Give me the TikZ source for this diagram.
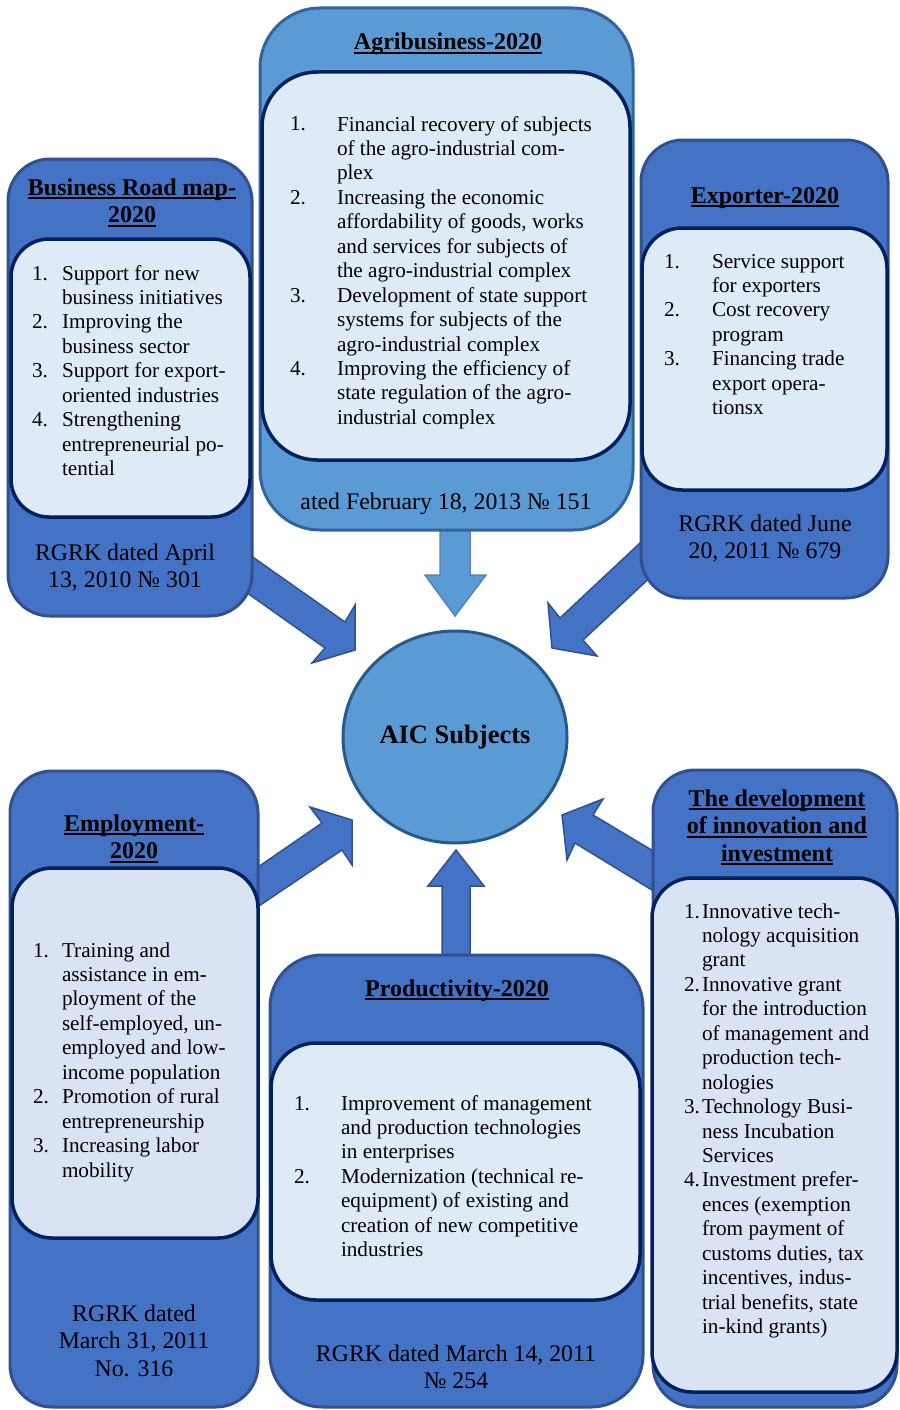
\documentclass[tikz,border=0pt]{standalone}
\usepackage{fontspec}
\setmainfont{Liberation Serif}
\usetikzlibrary{shapes.geometric}
\definecolor{bfill}{HTML}{4472C4}
\definecolor{bline}{HTML}{2F528F}
\definecolor{lfill}{HTML}{5B9BD5}
\definecolor{lline}{HTML}{31659B}
\definecolor{cline}{HTML}{255A8A}
\definecolor{ifill}{HTML}{DEEBF7}
\definecolor{ifillb}{HTML}{DAE3F3}
\definecolor{iline}{HTML}{002060}
\tikzset{
  obox/.style={rectangle, draw=bline, fill=bfill, line width=3pt, inner sep=0pt, outer sep=0pt},
  lbox/.style={rectangle, draw=lline, fill=lfill, line width=3pt, inner sep=0pt, outer sep=0pt},
  ibox/.style={rectangle, draw=iline, fill=ifill, line width=3.5pt, inner sep=0pt, outer sep=0pt},
  blkarrow/.style={draw=bline, fill=bfill, line width=1.5pt, line join=miter},
  lblkarrow/.style={draw=lline!80, fill=lfill, line width=1.5pt, line join=miter},
  lst/.style={inner sep=0pt, outer sep=0pt, align=left, anchor=north west, font=\fontsize{21.2}{24.45}\selectfont},
  ttl/.style={inner sep=0pt, outer sep=0pt, align=center, anchor=north, font=\fontsize{24}{27.5}\selectfont\bfseries},
  btm/.style={inner sep=0pt, outer sep=0pt, align=center, anchor=north, font=\fontsize{23.8}{27.5}\selectfont},
  aicst/.style={ellipse, draw=cline, fill=lfill, line width=3pt, minimum width=224pt, minimum height=212pt, inner sep=0pt, font=\fontsize{26.5}{30}\selectfont\bfseries}
}
\newcommand\uln[1]{\setbox0\hbox{#1}\rlap{\vrule width\wd0 height -2.4pt depth 4.4pt}\box0}
\newcommand\li[6]{%
  \node[lst] (#1n) at (#2,#4-17.115) {\strut #5};
  \node[lst] (#1) at (#3,#4-17.115) {\strut #6};}
\begin{document}
\begin{tikzpicture}[x=1pt,y=-1pt]
\useasboundingbox (0,0) rectangle (899,1410);
% block arrows (behind boxes)
\draw[blkarrow] (247,553) -- (345,622) -- (355,605) -- (355,650) -- (312,663) -- (325,648) -- (243,590) -- cycle;
\draw[blkarrow] (655,529) -- (560,618) -- (548,603) -- (552,648) -- (597,656) -- (583,640) -- (656,572) -- cycle;
\draw[lblkarrow] (440,522) -- (470,522) -- (470,575) -- (486,575) -- (455,616) -- (425,575) -- (440,575) -- cycle;
\draw[blkarrow] (456,850) -- (484,886) -- (470,886) -- (470,962) -- (442,962) -- (442,886) -- (428,886) -- cycle;
\draw[blkarrow] (245,876) -- (322,823) -- (310,807) -- (352,820) -- (352,865) -- (342,850) -- (247,914) -- cycle;
\draw[blkarrow] (562,815) -- (603,799) -- (593,815) -- (665,858) -- (665,898) -- (575,843) -- (567,860) -- cycle;

% Business Road map
\node[obox, rounded corners=42pt, minimum width=244pt, minimum height=457pt] (bizO) at (130,387.5) {};
\node[ibox, rounded corners=38pt, minimum width=239pt, minimum height=278pt] (bizI) at (130.5,378) {};
\node[ttl] (bizT) at (132,195-19.25) {\strut\uln{Business Road map-}\\\uln{2020}};
\li{b1}{32}{62}{280}{1.}{Support for new\\business initiatives}
\li{b2}{32}{62}{328.9}{2.}{Improving the\\business sector}
\li{b3}{32}{62}{377.8}{3.}{Support for export-\\oriented industries}
\li{b4}{32}{62}{426.7}{4.}{Strengthening\\entrepreneurial po-\\tential}
\node[btm] (bizB) at (125,560-19.25) {\strut RGRK dated April\\13, 2010 № 301};

% Agribusiness
\node[lbox, rounded corners=60pt, minimum width=373pt, minimum height=522pt] (agrO) at (446.5,269) {};
\node[ibox, rounded corners=55pt, minimum width=368pt, minimum height=388pt] (agrI) at (446,266) {};
\node[ttl] (agrT) at (448,50-19.25) {\strut\uln{Agribusiness-2020}};
\li{a1}{290}{337}{131}{1.}{Financial recovery of subjects\\of the agro-industrial com-\\plex}
\li{a2}{290}{337}{204.35}{2.}{Increasing the economic\\affordability of goods, works\\and services for subjects of\\the agro-industrial complex}
\li{a3}{290}{337}{302.15}{3.}{Development of state support\\systems for subjects of the\\agro-industrial complex}
\li{a4}{290}{337}{375.5}{4.}{Improving the efficiency of\\state regulation of the agro-\\industrial complex}
\node[btm] (agrB) at (446,509-19.25) {\strut ated February 18, 2013 № 151};

% Exporter
\node[obox, rounded corners=42pt, minimum width=247pt, minimum height=458pt] (expO) at (764.5,369) {};
\node[ibox, rounded corners=40pt, minimum width=245pt, minimum height=262pt] (expI) at (764.5,359) {};
\node[ttl] (expT) at (765,203-19.25) {\strut\uln{Exporter-2020}};
\li{e1}{664}{712}{268}{1.}{Service support\\for exporters}
\li{e2}{664}{712}{316.9}{2.}{Cost recovery\\program}
\li{e3}{664}{712}{365.8}{3.}{Financing trade\\export opera-\\tionsx}
\node[btm] (expB) at (765,531-19.25) {\strut RGRK dated June\\20, 2011 № 679};

% Employment
\node[obox, rounded corners=42pt, minimum width=248pt, minimum height=636pt] (empO) at (134,1089) {};
\node[ibox, fill=ifillb, rounded corners=40pt, minimum width=246pt, minimum height=370pt] (empI) at (135,1053) {};
\node[ttl] (empT) at (134,831-19.25) {\strut\uln{Employment-}\\\uln{2020}};
\li{m1}{33}{62}{957}{1.}{Training and\\assistance in em-\\ployment of the\\self-employed, un-\\employed and low-\\income population}
\li{m2}{33}{62}{1103.7}{2.}{Promotion of rural\\entrepreneurship}
\li{m3}{33}{62}{1152.6}{3.}{Increasing labor\\mobility}
\node[btm] (empB) at (134,1321-19.25) {\strut RGRK dated\\March 31, 2011\\No. 316};

% Productivity
\node[obox, rounded corners=52pt, minimum width=373pt, minimum height=452pt] (proO) at (456.5,1181) {};
\node[ibox, rounded corners=45pt, minimum width=369pt, minimum height=257pt] (proI) at (455.5,1171.5) {};
\node[ttl] (proT) at (457,996-19.25) {\strut\uln{Productivity-2020}};
\li{p1}{294}{341}{1110}{1.}{Improvement of management\\and production technologies\\in enterprises}
\li{p2}{294}{341}{1183.35}{2.}{Modernization (technical re-\\equipment) of existing and\\creation of new competitive\\industries}
\node[btm] (proB) at (456,1361-19.25) {\strut RGRK dated March 14, 2011\\№ 254};

% Innovation and investment
\node[obox, rounded corners=42pt, minimum width=244pt, minimum height=637pt] (innO) at (775,1088.5) {};
\node[ibox, fill=ifillb, rounded corners=40pt, minimum width=245pt, minimum height=514pt] (innI) at (774.5,1135) {};
\node[ttl] (innT) at (777,806-19.25) {\strut\uln{The development}\\\uln{of innovation and}\\\uln{investment}};
\li{v1}{684}{702}{918}{1.}{Innovative tech-\\nology acquisition\\grant}
\li{v2}{684}{702}{991.35}{2.}{Innovative grant\\for the introduction\\of management and\\production tech-\\nologies}
\li{v3}{684}{702}{1113.6}{3.}{Technology Busi-\\ness Incubation\\Services}
\li{v4}{684}{702}{1186.95}{4.}{Investment prefer-\\ences (exemption\\from payment of\\customs duties, tax\\incentives, indus-\\trial benefits, state\\in-kind grants)}

% centre
\node[aicst] (aic) at (455,737) {AIC Subjects};
\end{tikzpicture}
\end{document}
